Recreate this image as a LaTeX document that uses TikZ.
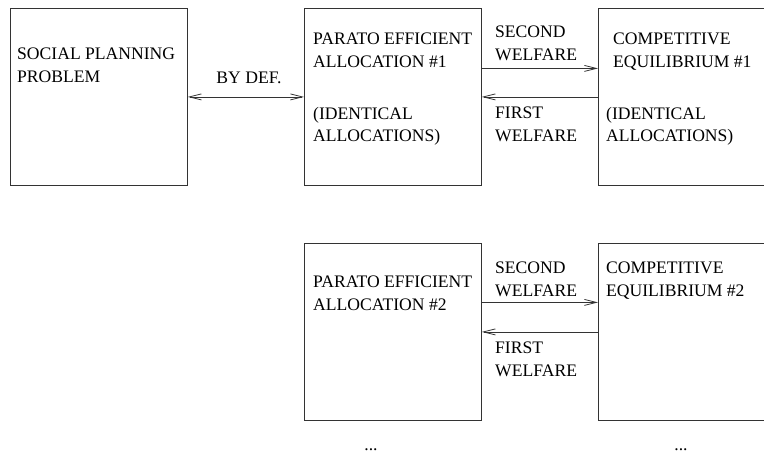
\documentclass[tikz,border=0pt]{standalone}
\usepackage{fontspec}
\setmainfont{Liberation Serif}
\usetikzlibrary{arrows.meta}

\tikzset{
  >={Straight Barb[length=12pt,width=6pt]},
  box/.style={draw=black!80, line width=0.8pt, minimum width=177pt, minimum height=177pt, inner sep=0pt, anchor=north west},
  txt/.style={anchor=north west, inner sep=0pt, align=left},
  link/.style={draw=black!80, line width=0.8pt},
}

\begin{document}
\begin{tikzpicture}[x=1pt, y=-1pt, font=\fontsize{17.6}{22.5}\selectfont]
    \clip (0,0) rectangle (764,456);
    % boxes
    \node[box] (social) at (10,8) {};
    \node[box] (pareto1) at (304,8) {};
    \node[box] (comp1) at (598,8) {};
    \node[box] (pareto2) at (304,243) {};
    \node[box] (comp2) at (598,243) {};
    % box texts
    \node[txt] (tsocial) at (17,48) {SOCIAL PLANNING\\PROBLEM};
    \node[txt] (tpareto1) at (313,33) {PARATO EFFICIENT\\ALLOCATION \#1};
    \node[txt] (tident1) at (313,107) {(IDENTICAL\\ALLOCATIONS)};
    \node[txt] (tcomp1) at (613,33) {COMPETITIVE\\EQUILIBRIUM \#1};
    \node[txt] (tident2) at (606,107) {(IDENTICAL\\ALLOCATIONS)};
    \node[txt] (tpareto2) at (313,276) {PARATO EFFICIENT\\ALLOCATION \#2};
    \node[txt] (tcomp2) at (606,262) {COMPETITIVE\\EQUILIBRIUM \#2};
    % arrow labels
    \node[anchor=north, inner sep=0pt] (bydef) at (249,72) {BY DEF.};
    \node[txt] (second1) at (495,26) {SECOND\\WELFARE};
    \node[txt] (first1) at (495,107) {FIRST\\WELFARE};
    \node[txt] (second2) at (495,262) {SECOND\\WELFARE};
    \node[txt] (first2) at (495,342) {FIRST\\WELFARE};
    % arrows
    \draw[link, <->] (social.east) -- (pareto1.west);
    \draw[link, ->] ([yshift=28.5pt]pareto1.east) -- ([yshift=28.5pt]comp1.west);
    \draw[link, ->] (comp1.west) -- (pareto1.east);
    \draw[link, ->] ([yshift=29.5pt]pareto2.east) -- ([yshift=29.5pt]comp2.west);
    \draw[link, ->] (comp2.west) -- (pareto2.east);
    % more below
    \node[anchor=base, inner sep=0pt] (more1) at (371,450) {...};
    \node[anchor=base, inner sep=0pt] (more2) at (681,450) {...};
\end{tikzpicture}
\end{document}
